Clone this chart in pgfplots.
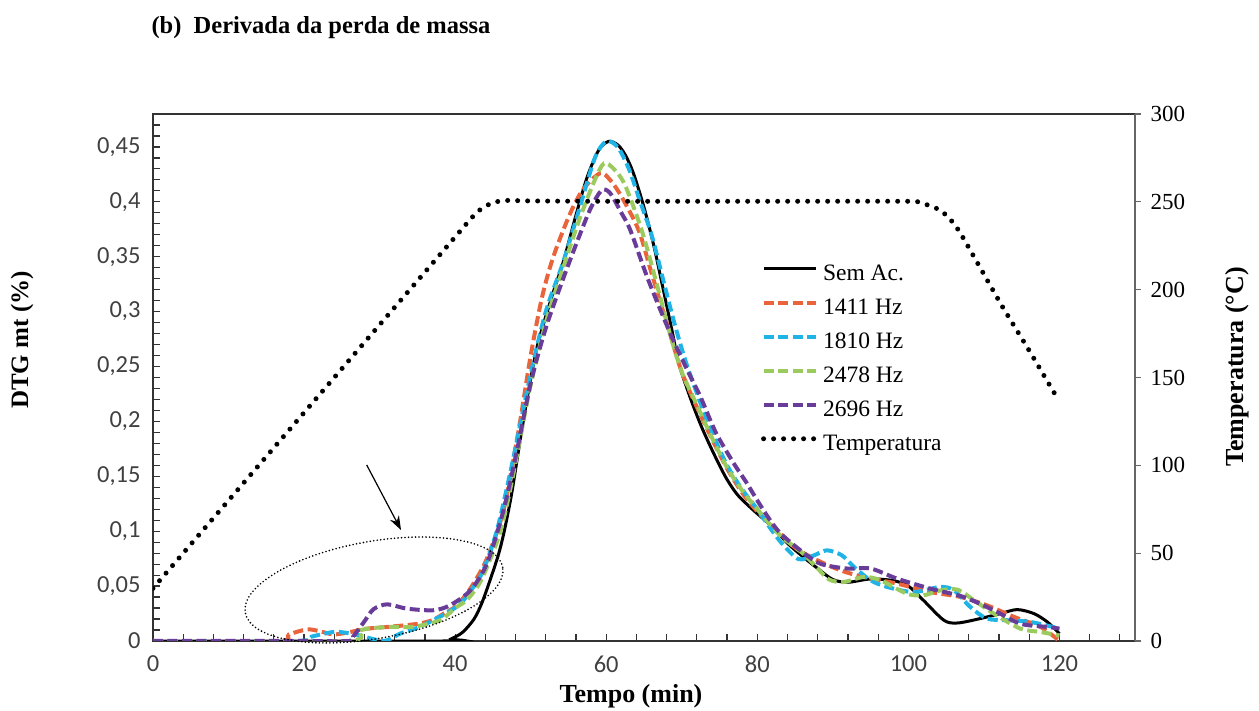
\documentclass[border=0pt]{standalone}
\usepackage{pgfplots}
\pgfplotsset{compat=1.18}
\usepackage{fontspec}
\setmainfont{Liberation Serif}
\newfontfamily\calibri{Carlito}
\usetikzlibrary{arrows.meta}
\definecolor{cRed}{RGB}{233,100,58}
\definecolor{cBlue}{RGB}{32,180,230}
\definecolor{cGreen}{RGB}{155,203,94}
\definecolor{cPurple}{RGB}{104,60,152}
\definecolor{tickgray}{RGB}{64,64,64}
\tikzset{
  dashS/.style={line width=4pt, dash pattern=on 10pt off 4.5pt},
  tempS/.style={black, line width=5pt, dash pattern=on 0pt off 10pt, line cap=round},
}
\begin{document}
\begin{tikzpicture}[x=1pt,y=1pt]
\path[use as bounding box] (-153,-70) rectangle (1106,641);
\begin{axis}[
  at={(0,0)}, anchor=south west,
  width=982pt, height=527pt, scale only axis,
  xmin=0, xmax=130, ymin=0, ymax=0.48,
  xtick={0,20,40,60,80,100,120},
  minor xtick={0,4,...,128},
  ytick={0,0.05,0.1,0.15,0.2,0.25,0.3,0.35,0.4,0.45},
  minor ytick={0.01,0.02,0.03,0.04,0.06,0.07,0.08,0.09,0.11,0.12,0.13,0.14,0.16,0.17,0.18,0.19,0.21,0.22,0.23,0.24,0.26,0.27,0.28,0.29,0.31,0.32,0.33,0.34,0.36,0.37,0.38,0.39,0.41,0.42,0.43,0.44,0.46,0.47},
  tick align=inside, xtick pos=bottom, ytick pos=left,
  major tick length=7pt, minor tick length=7pt,
  axis line style={draw=black!80, line width=1.3pt},
  every tick/.style={black!80, line width=1.2pt},
  every minor tick/.style={black!80, line width=1.2pt},
  /pgf/number format/assume math mode=true,
  yticklabel style={font=\calibri\fontsize{24.5}{28}\selectfont, text=tickgray, xshift=-9pt, /pgf/number format/.cd, use comma, fixed, precision=2},
  xticklabel style={font=\calibri\fontsize{24.5}{28}\selectfont, text=tickgray, yshift=-11pt},
  scaled y ticks=false,
]
\addplot[black, line width=3pt, smooth] coordinates {
(0,0)(38.5,0)(39.5,0.002)(41,0.008)(42.5,0.02)(43.5,0.034)(44.5,0.053)(45.7,0.078)(46.5,0.1)(47.5,0.135)(48.7,0.187)(49.9,0.235)(51,0.272)(53,0.318)(54.3,0.345)(56,0.388)(57.5,0.423)(59,0.447)(60.3,0.455)(61.5,0.452)(62.5,0.443)(63.6,0.426)(65,0.395)(66.3,0.36)(67.4,0.325)(68.7,0.283)(69.6,0.253)(71.1,0.222)(72.5,0.197)(73.8,0.177)(75,0.16)(76,0.147)(77.4,0.133)(79.5,0.119)(82,0.104)(84,0.089)(86,0.077)(88,0.066)(90,0.056)(92,0.0535)(95,0.0565)(98,0.055)(100,0.05)(102,0.037)(104.7,0.0189)(106.5,0.0164)(109.5,0.0204)(112.2,0.025)(114.4,0.0286)(116.6,0.025)(118.4,0.0173)(120,0.0067)
};
\addplot[cRed, dashS, smooth] coordinates {
(0,0)(16.4,0)(18,0.006)(20.4,0.0105)(22,0.009)(23.9,0.006)(26,0.008)(28,0.011)(31,0.0128)(34.9,0.0155)(37,0.019)(38.5,0.025)(40.2,0.032)(41.5,0.043)(42.4,0.052)(44.2,0.075)(46.4,0.119)(48.4,0.192)(50,0.26)(51.5,0.313)(53,0.35)(55.2,0.389)(57,0.412)(59.2,0.426)(60.5,0.42)(62,0.405)(64.3,0.374)(66,0.335)(68.3,0.283)(70,0.245)(72,0.213)(74,0.184)(76,0.157)(78,0.135)(80,0.118)(83,0.098)(85,0.085)(87.5,0.075)(91,0.0644)(94.1,0.0583)(98.5,0.0523)(102.9,0.0446)(106.9,0.0401)(110.4,0.0325)(114,0.0219)(117.5,0.0128)(120,0.0)
};
\addplot[cBlue, dashS, smooth] coordinates {
(0,0)(19,0)(21,0.004)(23.9,0.0082)(25.5,0.0075)(27.4,0.005)(29,0.002)(30.5,0.0)(31.5,0.002)(32.7,0.0067)(35,0.012)(37.1,0.0189)(39,0.026)(40.7,0.034)(42.3,0.048)(43.7,0.064)(45.5,0.1)(47.5,0.16)(49.9,0.24)(52,0.3)(54.3,0.345)(56.5,0.395)(58.5,0.44)(60,0.455)(61.5,0.45)(63,0.43)(64.5,0.4)(66,0.37)(67.5,0.33)(69,0.29)(70.5,0.255)(72.3,0.22)(74,0.19)(76,0.16)(78,0.138)(80,0.12)(82,0.1)(83.5,0.087)(85.5,0.0745)(87.5,0.078)(89.2,0.0826)(91.2,0.078)(92.8,0.0674)(95,0.0553)(97.2,0.0492)(100.7,0.0446)(104.2,0.0492)(106,0.0462)(108.2,0.031)(110.4,0.0204)(113.1,0.0189)(116.2,0.0173)(120,0.0113)
};
\addplot[cGreen, dashS, smooth] coordinates {
(0,0)(25.5,0)(27.4,0.0097)(31,0.0128)(34.5,0.013)(38,0.0189)(40,0.03)(41.5,0.037)(43,0.05)(44.2,0.067)(46,0.1)(47.5,0.145)(49.9,0.23)(52,0.29)(54.3,0.34)(56.5,0.385)(58.5,0.42)(59.7,0.435)(61,0.43)(62.5,0.415)(64.7,0.374)(66.5,0.33)(68.3,0.283)(70,0.245)(72,0.215)(74,0.185)(76,0.158)(78,0.137)(80,0.12)(83,0.0963)(86,0.08)(88,0.066)(89.5,0.056)(91.4,0.0537)(94.1,0.0583)(96.3,0.0553)(99.8,0.0431)(102,0.0416)(104.2,0.046)(106.5,0.0468)(108.7,0.037)(111.3,0.025)(114.8,0.0113)(117.5,0.0082)(120,0.005)
};
\addplot[cPurple, dashS, smooth] coordinates {
(0,0)(16,0)(20,0)(26,0)(26.5,0.004)(28,0.018)(29.2,0.029)(31,0.0334)(33.6,0.0295)(37.1,0.028)(39.3,0.0325)(42,0.046)(44.2,0.0705)(46.4,0.119)(48.2,0.174)(50,0.235)(52,0.285)(54.3,0.33)(56.5,0.37)(58,0.395)(59.4,0.4105)(60.5,0.408)(62,0.39)(63.2,0.374)(65.5,0.33)(68.3,0.283)(70.5,0.25)(72.5,0.222)(74.5,0.19)(76.9,0.1616)(78.5,0.145)(80,0.128)(81.5,0.112)(83,0.0985)(85.7,0.0826)(88.3,0.0705)(91.9,0.066)(95,0.066)(98.5,0.0568)(102.9,0.0477)(107.3,0.0401)(111.3,0.028)(114.8,0.0158)(118.4,0.0128)(120,0.0113)
};
\end{axis}
\begin{axis}[
  at={(0,0)}, anchor=south west,
  width=982pt, height=527pt, scale only axis,
  xmin=0, xmax=130, ymin=0, ymax=300,
  axis x line=none, axis y line*=right,
  ytick={0,50,100,150,200,250,300},
  ytick align=outside, major tick length=6pt,
  axis line style={draw=black!60, line width=1.3pt},
  every tick/.style={black!60, line width=1.2pt},
  /pgf/number format/assume math mode=true,
  yticklabel style={font=\fontsize{23}{27}\selectfont, xshift=6pt},
  legend style={at={(0.616,0.72)}, anchor=north west, draw=none, fill=none,
    font=\fontsize{23.5}{27}\selectfont,
    nodes={inner sep=0pt, text height=17pt, text depth=5pt},
    row sep=12pt, column sep=5pt},
  legend cell align=left,
  legend image code/.code={\draw[#1] (0pt,6pt) -- (52pt,6pt);},
]
\addlegendimage{black, line width=3pt}
\addlegendentry{Sem Ac.}
\addlegendimage{cRed, dashS}
\addlegendentry{1411 Hz}
\addlegendimage{cBlue, dashS}
\addlegendentry{1810 Hz}
\addlegendimage{cGreen, dashS}
\addlegendentry{2478 Hz}
\addlegendimage{cPurple, dashS}
\addlegendentry{2696 Hz}
\addplot[tempS, smooth, tension=0.3] coordinates {
(0,30)(4,50)(8,70)(12,90)(16,110)(20,130)(24,150)(28,170)(32,190)(36,210)(40,230)(42,240)(43,244.5)(44,247.5)(45,249.5)(46,250.5)(47,250.8)(50,250.5)(60,250.3)(80,250.3)(100,250.3)(101.7,249.4)(103,247.5)(104.1,245.5)(105.2,241.7)(106.3,236)(107.4,228.4)(112.3,191.4)(115.8,166.7)(119.3,141.3)
};
\addlegendentry{Temperatura}
\end{axis}
% annotation: ellipse and arrow
\draw[black, line width=1.8pt, dash pattern=on 0pt off 3.5pt, line cap=round, rotate around={10:(221,51)}] (221,51) ellipse [x radius=130.7, y radius=48.6];
\draw[-{Stealth[length=14pt,width=10pt]}, line width=1.2pt] (213.7,176) -- (248,111);
% titles
\node[anchor=base west, font=\bfseries\fontsize{24.5}{28}\selectfont] at (-5,607) {(b)\ \ Derivada da perda de massa};
\node[rotate=90, font=\bfseries\fontsize{25}{30}\selectfont] at (-131,301) {DTG mt (\%)};
\node[rotate=90, font=\bfseries\fontsize{26}{30}\selectfont] at (1084,274) {Temperatura (°C)};
\node[font=\bfseries\fontsize{26}{30}\selectfont] at (478,-55) {Tempo (min)};
\end{tikzpicture}
\end{document}
